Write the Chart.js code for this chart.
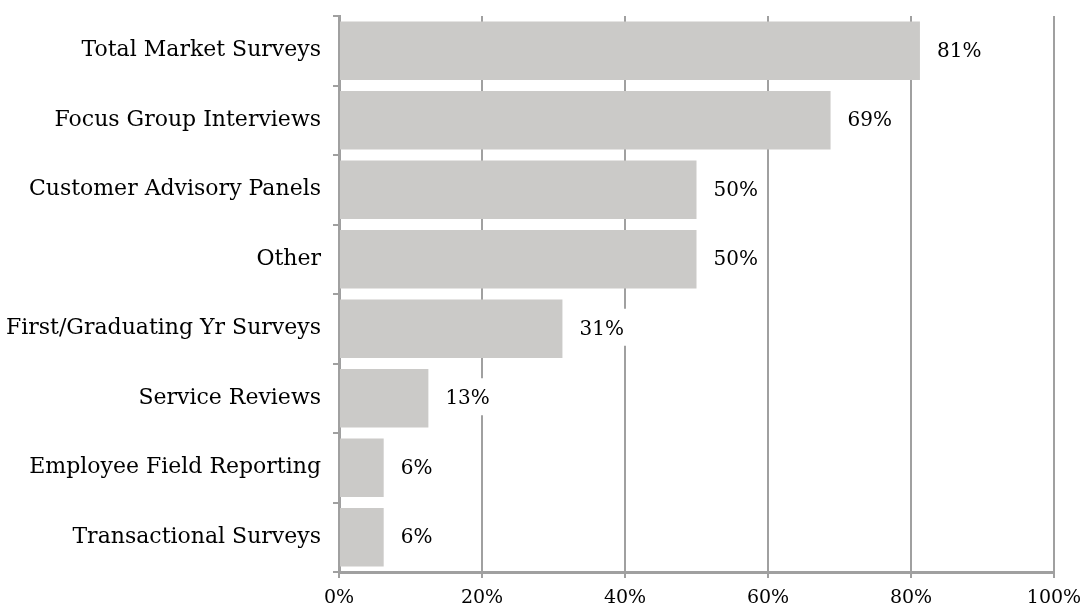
<!DOCTYPE html>
<html>
<head>
<meta charset="utf-8">
<script src="https://cdn.jsdelivr.net/npm/chart.js@4"></script>
<style>
  html, body { margin: 0; padding: 0; background: #fff; }
</style>
</head>
<body>
<canvas id="chart" width="1084" height="609"></canvas>
<script>
'use strict';

const categories = [
  'Total Market Surveys',
  'Focus Group Interviews',
  'Customer Advisory Panels',
  'Other',
  'First/Graduating Yr Surveys',
  'Service Reviews',
  'Employee Field Reporting',
  'Transactional Surveys'
];
const shares = [81.25, 68.75, 50, 50, 31.25, 12.5, 6.25, 6.25];
const tickValues = [0, 20, 40, 60, 80, 100];

const FONT = '"Palatino Linotype", "Book Antiqua", Palatino, "DejaVu Serif", serif';

// value labels sitting in a small white box right of each bar
const valueLabels = {
  id: 'valueLabels',
  afterDatasetsDraw(chart) {
    const ctx = chart.ctx;
    const meta = chart.getDatasetMeta(0);
    ctx.save();
    ctx.font = '20px ' + FONT;
    ctx.textBaseline = 'middle';
    meta.data.forEach((bar, i) => {
      const text = Math.round(shares[i]) + '%';
      const w = ctx.measureText(text).width;
      const tx = bar.x + 17;
      ctx.fillStyle = '#ffffff';
      ctx.fillRect(bar.x + 4, bar.y - 20, w + 22, 37);
      ctx.fillStyle = '#000000';
      ctx.fillText(text, tx, bar.y + 1);
    });
    ctx.restore();
  }
};

const chartConfig = {
  type: 'bar',
  data: {
    labels: categories,
    datasets: [{
      data: shares,
      backgroundColor: '#cbcac8',
      borderWidth: 0,
      barPercentage: 0.84,
      categoryPercentage: 1
    }]
  },
  options: {
    indexAxis: 'y',
    responsive: false,
    animation: false,
    layout: { padding: { top: 16, right: 30, left: 0, bottom: 0 } },
    plugins: { legend: { display: false }, tooltip: { enabled: false } },
    scales: {
      x: {
        min: 0,
        max: 100,
        afterBuildTicks(axis) {
          axis.ticks = tickValues.map(v => ({ value: v }));
        },
        afterFit(axis) {
          axis.height = 37;
          axis.paddingRight = 0;
          axis.paddingLeft = 0;
        },
        grid: { color: '#a0a0a0', lineWidth: 2, tickLength: 6 },
        border: { color: '#a0a0a0', width: 3 },
        ticks: {
          color: '#000',
          font: { family: FONT, size: 19 },
          padding: 9,
          callback: v => v + '%'
        }
      },
      y: {
        afterFit(axis) {
          axis.width = 339;
          axis.paddingTop = 0;
          axis.paddingBottom = 0;
        },
        grid: { drawOnChartArea: false, color: '#a0a0a0', lineWidth: 2, tickLength: 6, offset: true },
        border: { color: '#a0a0a0', width: 3 },
        ticks: {
          color: '#000',
          font: { family: FONT, size: 22 },
          padding: 12
        }
      }
    }
  },
  plugins: [valueLabels]
};

new Chart(document.getElementById('chart').getContext('2d'), chartConfig);
</script>
</body>
</html>
